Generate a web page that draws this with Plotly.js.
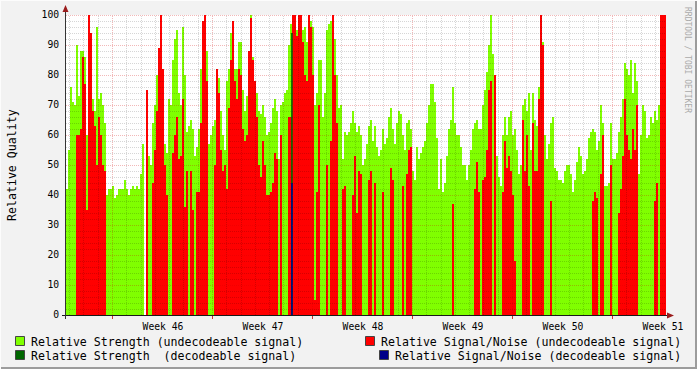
<!DOCTYPE html>
<html><head><meta charset="utf-8">
<script src="https://cdn.plot.ly/plotly-3.0.1.min.js"></script>
<style>html,body{margin:0;padding:0;background:#f2f2f2;}#chart{width:697px;height:369px;}</style>
</head><body><div id="chart"></div>
<script>
// ---- data (days relative to the start of week 46) ----
const startDay = -3.22;
const sampleDays = 0.14;
const strengthUndecodeable = [
42,55,76,71,70,90,73,88,88,86,
60,62,70,72,68,96,72,74,70,64,
40,42,42,43,39,40,42,42,42,45,
42,40,42,43,42,43,42,47,57,0,
70,53,50,64,70,80,85,80,82,57,
54,72,70,85,92,95,74,70,96,80,
61,63,65,62,53,56,62,82,97,88,
88,57,60,63,65,72,79,68,60,55,
78,82,94,96,82,82,91,91,75,68,
73,76,100,86,72,74,68,67,70,66,
60,61,64,69,72,68,52,70,71,74,
75,90,97,100,100,95,100,100,95,96,
91,100,98,96,70,74,85,85,66,74,
95,97,98,100,92,80,69,70,52,61,
60,61,64,68,64,61,63,60,50,52,
57,63,65,58,63,56,53,55,62,57,
59,66,69,62,57,64,68,67,60,55,
64,65,62,48,45,56,52,54,56,58,
64,70,77,77,71,59,42,52,41,44,
53,62,65,76,64,60,60,56,50,50,
45,50,55,62,64,65,62,62,70,75,
81,90,100,87,0,53,46,43,60,66,
60,66,68,60,62,55,47,50,70,72,
68,74,55,74,65,63,76,90,91,60,
52,57,64,66,49,48,45,45,44,48,
50,50,47,41,45,51,56,53,47,48,
52,59,61,62,61,55,58,70,64,43,
43,44,64,52,52,54,61,66,72,84,
82,80,85,74,84,78,47,60,70,68,
59,60,66,64,68,65,70,100,100,100];
const snrUndecodeable = [
0,0,0,0,0,60,60,62,86,77,
35,100,94,68,63,50,66,60,50,48,
0,0,0,0,0,0,0,0,0,0,
0,0,0,0,0,0,0,0,0,0,
75,0,0,44,55,68,89,100,82,50,
40,0,0,54,60,66,52,53,72,36,
48,0,48,35,0,41,41,64,98,100,
78,0,0,0,50,82,74,55,48,50,
42,69,85,98,78,72,82,80,62,58,
60,88,99,85,78,66,50,46,58,50,
40,40,41,44,54,52,0,60,0,0,
0,66,66,100,100,93,100,100,91,80,
78,100,96,80,5,41,70,0,0,0,
50,0,58,100,80,64,0,0,42,43,
0,0,0,40,53,34,48,47,0,0,
0,45,48,0,44,0,0,0,41,0,
0,0,49,45,0,0,0,0,43,0,
47,55,56,0,0,0,0,0,0,0,
0,0,0,0,0,0,0,0,0,0,
0,0,0,37,0,0,0,0,0,0,
0,0,0,0,42,51,41,0,45,46,
55,75,78,0,80,0,0,0,41,58,
49,53,48,40,18,0,0,0,65,48,
60,43,0,64,48,48,72,100,90,0,
0,0,38,0,0,0,0,0,0,0,
0,0,0,0,0,0,0,0,0,0,
0,0,0,38,41,39,0,47,60,0,
0,0,50,0,0,0,34,42,53,72,
60,55,52,62,55,70,0,0,0,0,
0,0,0,0,38,44,0,100,100,100];
// decodeable signal: a single short reading (days)
const decodeableDays = [12.595];
const strengthDecodeable = [94];
const snrDecodeable = [44];
const weekLabels = ['Week 46','Week 47','Week 48','Week 49','Week 50','Week 51'];
const weekLabelDays = [3.57,10.57,17.57,24.57,31.57,38.57];
const legendLabels = ['Relative Strength (undecodeable signal)','Relative Signal/Noise (undecodeable signal)',
  'Relative Strength \u00a0(decodeable signal)','Relative Signal/Noise (decodeable signal)'];
const colors = ['#80ff00','#ff0000','#006600','#000088'];

const days = strengthUndecodeable.map((_, i) => startDay + (i + 0.5) * sampleDays);
const MONO = 'DejaVu Sans Mono';
const stem = (xs, ys) => {
  const sx = [], sy = [];
  xs.forEach((x, i) => { sx.push(x, x, null); sy.push(0, ys[i], null); });
  return {x: sx, y: sy};
};
const sd = stem(decodeableDays, strengthDecodeable), sn = stem(decodeableDays, snrDecodeable);

const traces = [
  {type:'bar', x:days, y:strengthUndecodeable, width:sampleDays, marker:{color:colors[0], line:{width:0}}},
  {type:'bar', x:days, y:snrUndecodeable, width:sampleDays, marker:{color:colors[1], line:{width:0}}},
  {type:'scatter', mode:'lines', x:sd.x, y:sd.y, line:{color:colors[2], width:1.6}},
  {type:'scatter', mode:'lines', x:sn.x, y:sn.y, line:{color:colors[3], width:1.6}}
];

const L = 66, T = 15, W = 600, H = 300;
const PX = x => (x - L) / W, PY = y => (T + H - y) / H;
const pxPerDay = 100 / 7, week46Px = 112;
const shapes = [];
for (let k = -3; k <= 38; k++) {
  if (k % 7 === 0) continue;
  const p = Math.round(week46Px + k * pxPerDay) + 0.5;
  if (p < L || p > L + W) continue;
  shapes.push({type:'line', xref:'paper', yref:'paper', x0:PX(p), x1:PX(p), y0:0, y1:1, layer:'above',
    line:{color:'rgba(0,0,0,0.16)', width:1, dash:'1px,1px'}});
}
for (let v = 2; v <= 100; v += 2) {
  if (v % 10 === 0) continue;
  const p = T + H - 3 * v + 0.5;
  shapes.push({type:'line', xref:'paper', yref:'paper', x0:0, x1:1, y0:PY(p), y1:PY(p), layer:'above',
    line:{color:'rgba(0,0,0,0.16)', width:1, dash:'1px,1px'}});
}
for (let v = 10; v <= 100; v += 10) {
  const p = T + H - 3 * v + 0.5;
  shapes.push({type:'line', xref:'paper', yref:'paper', x0:0, x1:1, y0:PY(p), y1:PY(p), layer:'above',
    line:{color:'rgba(210,0,0,0.28)', width:1, dash:'1px,1px'}});
}
for (let k = 0; k <= 35; k += 7) {
  const p = Math.round(week46Px + k * pxPerDay) + 0.5;
  shapes.push({type:'line', xref:'paper', yref:'paper', x0:PX(p), x1:PX(p), y0:0, y1:1, layer:'above',
    line:{color:'rgba(210,0,0,0.28)', width:1, dash:'1px,1px'}});
  shapes.push({type:'line', xref:'paper', yref:'paper', x0:PX(p), x1:PX(p), y0:PY(315), y1:PY(319), layer:'above',
    line:{color:'#cc3333', width:1}});
}
shapes.push({type:'line', xref:'paper', yref:'paper', x0:PX(62), x1:PX(668), y0:PY(315.5), y1:PY(315.5), layer:'above', line:{color:'#1a1a1a', width:1}});
shapes.push({type:'line', xref:'paper', yref:'paper', x0:PX(65.5), x1:PX(65.5), y0:PY(319), y1:PY(10), layer:'above', line:{color:'#333333', width:1}});
shapes.push({type:'path', xref:'paper', yref:'paper', layer:'above', line:{width:0}, fillcolor:'#9b1c1c',
  path:`M ${PX(62.5)} ${PY(12)} L ${PX(68.5)} ${PY(12)} L ${PX(65.5)} ${PY(5)} Z`});
shapes.push({type:'path', xref:'paper', yref:'paper', layer:'above', line:{width:0}, fillcolor:'#9b1c1c',
  path:`M ${PX(667)} ${PY(312.5)} L ${PX(667)} ${PY(318.5)} L ${PX(674)} ${PY(315.5)} Z`});
shapes.push({type:'line', xref:'paper', yref:'paper', x0:PX(0), x1:PX(697), y0:PY(368), y1:PY(368), line:{color:'#9c9c9c', width:2}});
shapes.push({type:'line', xref:'paper', yref:'paper', x0:PX(696), x1:PX(696), y0:PY(0), y1:PY(369), line:{color:'#9c9c9c', width:2}});
shapes.push({type:'line', xref:'paper', yref:'paper', x0:PX(0), x1:PX(697), y0:PY(0.5), y1:PY(0.5), line:{color:'#fcfcfc', width:1}});
shapes.push({type:'line', xref:'paper', yref:'paper', x0:PX(0.5), x1:PX(0.5), y0:PY(0), y1:PY(369), line:{color:'#fcfcfc', width:1}});

const legendPos = [[15,336,30],[365,336,380],[15,350,30],[379,350,394]];
const annotations = [];
legendPos.forEach((p, i) => {
  shapes.push({type:'rect', xref:'paper', yref:'paper', x0:PX(p[0]+0.5), x1:PX(p[0]+9.5), y0:PY(p[1]+0.5), y1:PY(p[1]+9.5),
    fillcolor:colors[i], line:{color:'#444', width:1}});
  annotations.push({xref:'paper', yref:'paper', x:PX(p[2]-1), y:PY(p[1]+5.5), xanchor:'left', yanchor:'middle',
    showarrow:false, text:legendLabels[i], font:{family:MONO, size:11.6, color:'#000'}});
});
annotations.push({xref:'paper', yref:'paper', x:PX(12), y:PY(165), xanchor:'center', yanchor:'middle', textangle:-90, showarrow:false,
  text:'Relative Quality', font:{family:MONO, size:11.6, color:'#000'}});
annotations.push({xref:'paper', yref:'paper', x:PX(688), y:PY(60), xanchor:'center', yanchor:'middle', textangle:90, showarrow:false,
  text:'RRDTOOL / TOBI OETIKER', font:{family:MONO, size:8, color:'#aaaaaa'}});

const layout = {
  width:697, height:369, margin:{l:L, r:697-L-W, t:T, b:369-T-H, pad:0},
  paper_bgcolor:'#f2f2f2', plot_bgcolor:'#ffffff',
  barmode:'overlay', bargap:0, showlegend:false, hovermode:false,
  xaxis:{range:[startDay, startDay + 42], tickvals:weekLabelDays, ticktext:weekLabels,
    ticks:'outside', ticklen:2, tickcolor:'rgba(0,0,0,0)', showgrid:false, zeroline:false, showline:false,
    tickfont:{family:MONO, size:9.7, color:'#000'}, fixedrange:true},
  yaxis:{range:[0,100], tickvals:[0,10,20,30,40,50,60,70,80,90,100],
    ticks:'outside', ticklen:4, tickcolor:'rgba(0,0,0,0)', showgrid:false, zeroline:false, showline:false,
    tickfont:{family:MONO, size:9.7, color:'#000'}, fixedrange:true},
  shapes:shapes, annotations:annotations
};
Plotly.newPlot('chart', traces, layout, {staticPlot:true, displayModeBar:false});
</script></body></html>
